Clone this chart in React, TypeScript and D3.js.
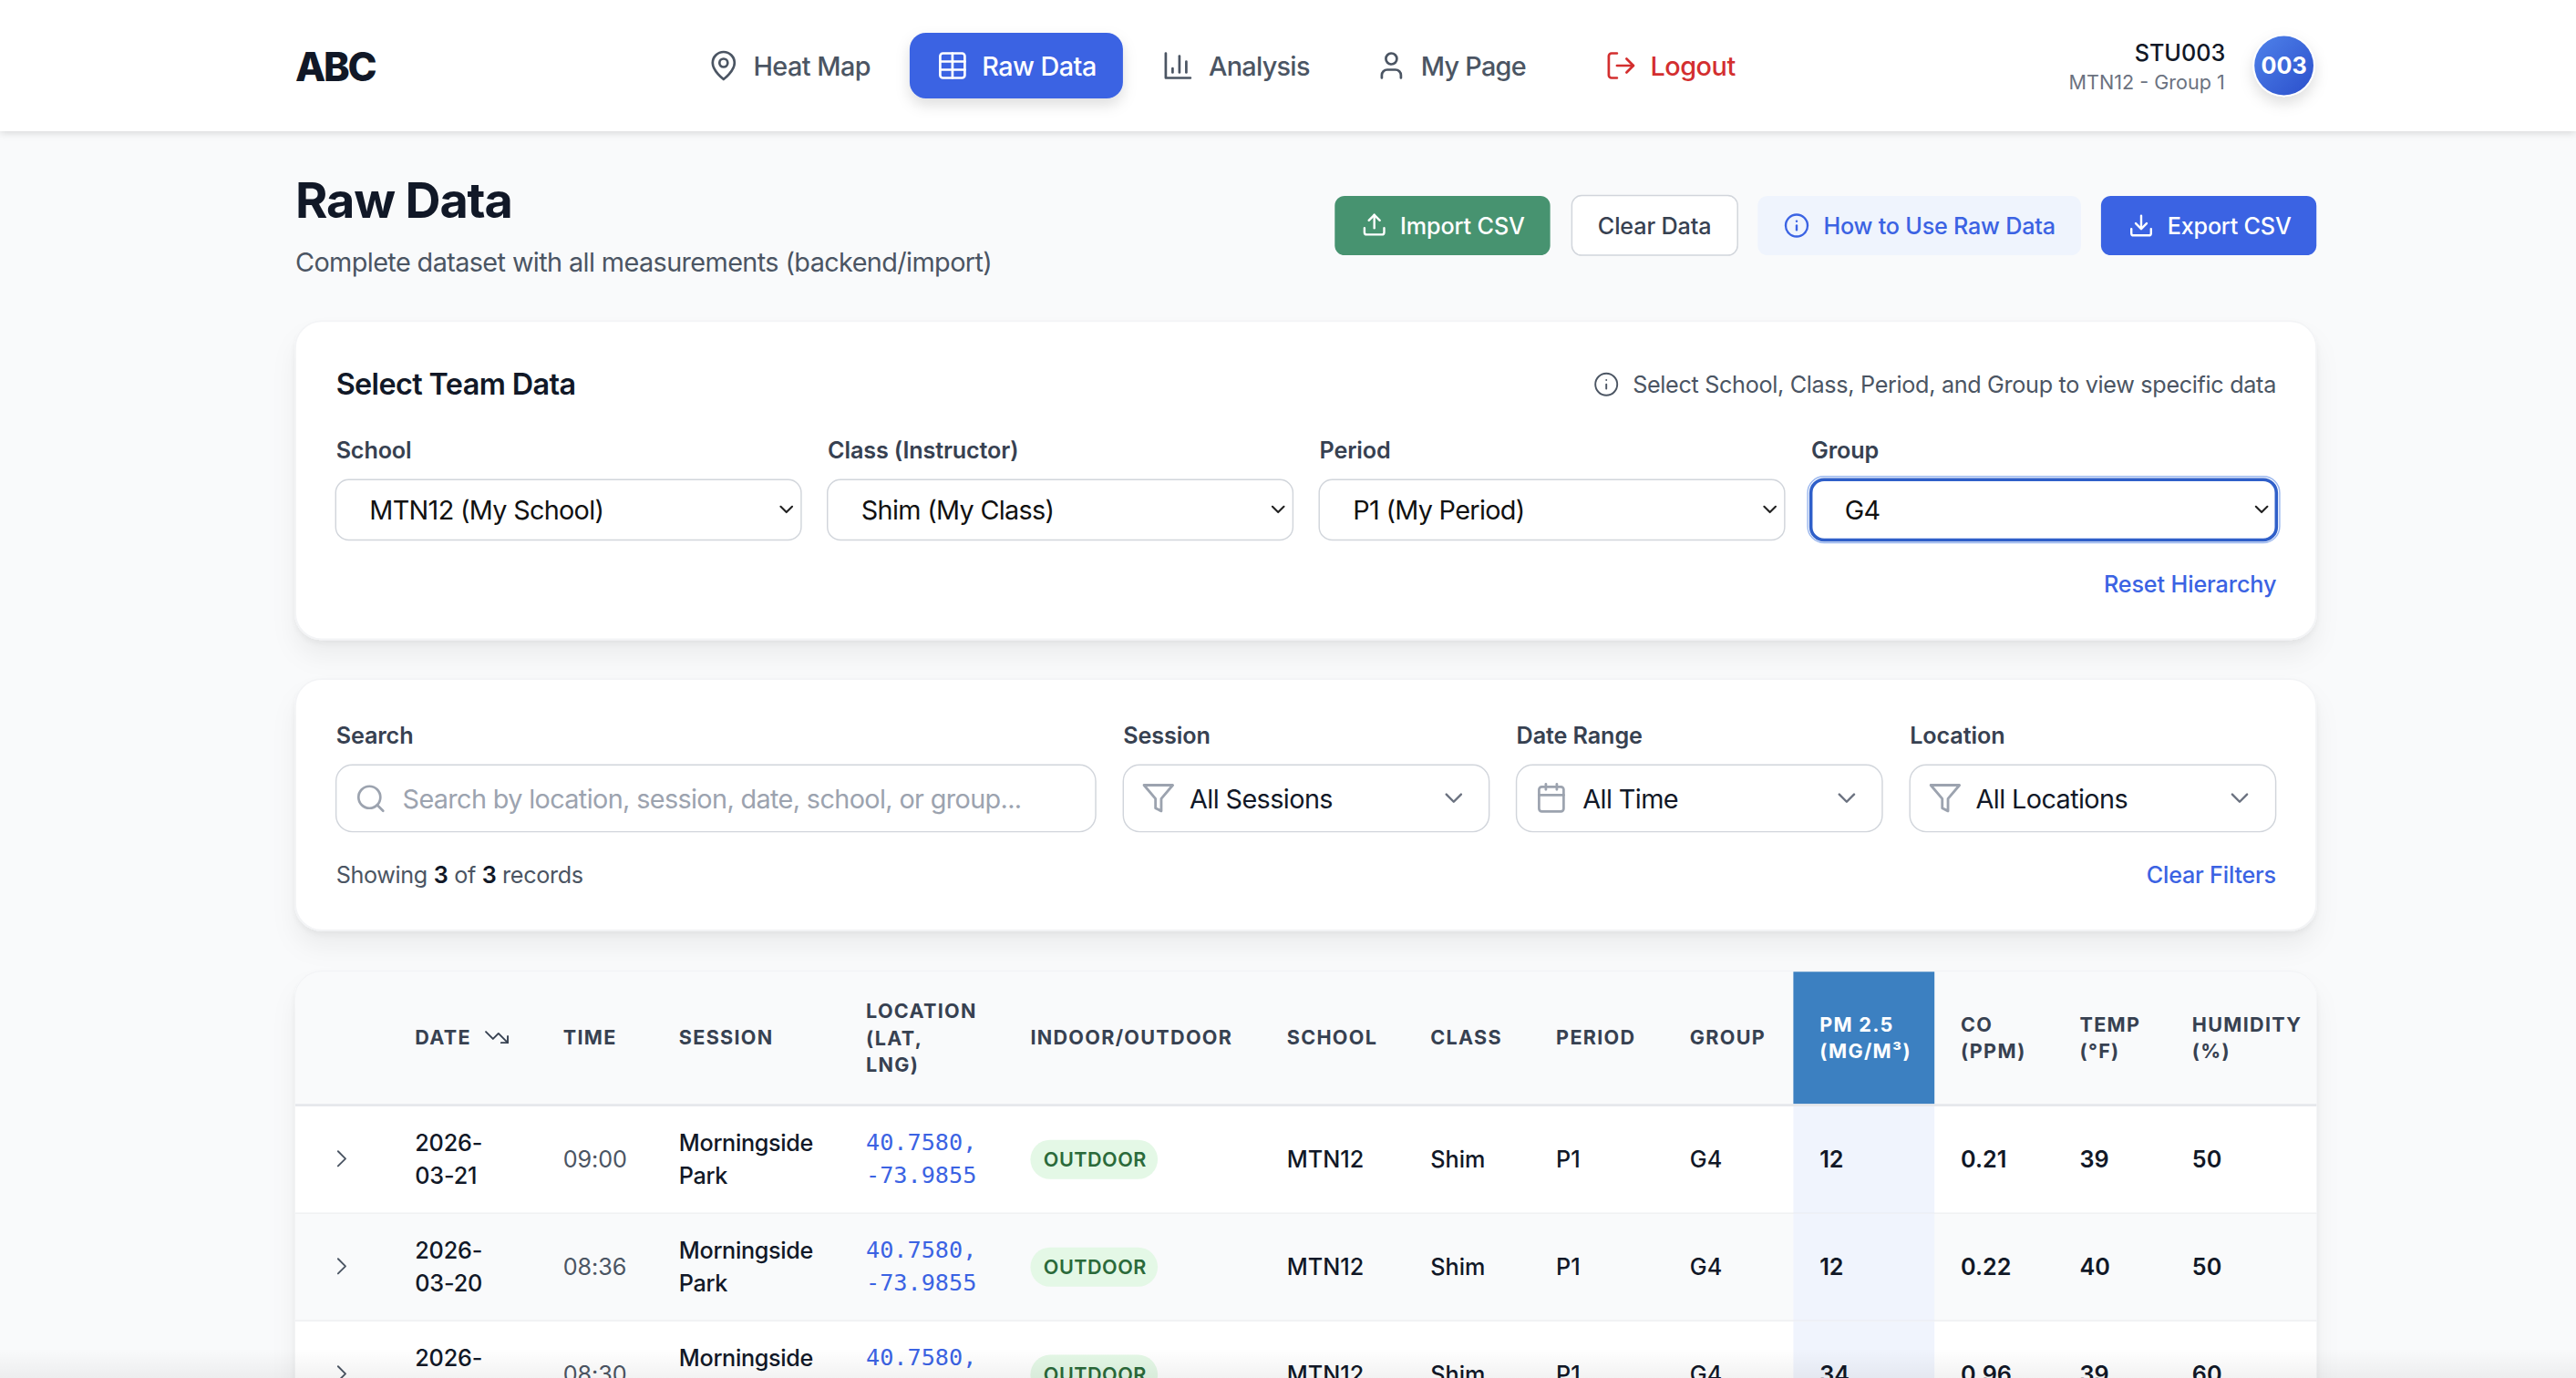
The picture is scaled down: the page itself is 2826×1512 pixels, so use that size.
import React from "react";
import * as d3 from "d3";

const navLabels = ["Heat Map", "Raw Data", "Analysis", "My Page", "Logout"];
const dates = ["2026-03-21", "2026-03-20", "2026-03-19"];
const times = ["09:00", "08:36", "08:30"];
const sessions = ["Morningside Park", "Morningside Park", "Morningside Park"];
const lats = ["40.7580,", "40.7580,", "40.7580,"];
const lngs = ["-73.9855", "-73.9855", "-73.9855"];
const settings = ["OUTDOOR", "OUTDOOR", "OUTDOOR"];
const schools = ["MTN12", "MTN12", "MTN12"];
const classes = ["Shim", "Shim", "Shim"];
const periods = ["P1", "P1", "P1"];
const groups = ["G4", "G4", "G4"];
const pm25 = [12, 12, 34];
const co = ["0.21", "0.22", "0.96"];
const temp = [39, 40, 39];
const humidity = [50, 50, 60];
const columns = ["expand", "date", "time", "session", "location", "setting", "school", "class", "period", "group", "pm", "co", "temp", "humidity"];
const columnLefts = [205.8, 252.9, 343.2, 413.8, 527.8, 628, 784.3, 871.8, 948.4, 1029.9, 1109, 1195, 1267.5, 1336];
const hierarchyLabels = ["School", "Class (Instructor)", "Period", "Group"];
const hierarchyValues = ["MTN12 (My School)", "Shim (My Class)", "P1 (My Period)", "G4"];

const I = {
  pin: ["M20 10c0 6-8 12-8 12s-8-6-8-12a8 8 0 0 1 16 0Z", "M15 10a3 3 0 1 1-6 0a3 3 0 1 1 6 0"],
  table: ["M5 3h14a2 2 0 0 1 2 2v14a2 2 0 0 1-2 2H5a2 2 0 0 1-2-2V5a2 2 0 0 1 2-2Z", "M3 9h18", "M3 15h18", "M12 3v18"],
  chart: ["M3 3v18h18", "M18 17V9", "M13 17V5", "M8 17v-3"],
  user: ["M19 21v-2a4 4 0 0 0-4-4H9a4 4 0 0 0-4 4v2", "M16 7a4 4 0 1 1-8 0a4 4 0 1 1 8 0"],
  logout: ["M9 21H5a2 2 0 0 1-2-2V5a2 2 0 0 1 2-2h4", "M16 17l5-5-5-5", "M21 12H9"],
  upload: ["M21 15v4a2 2 0 0 1-2 2H5a2 2 0 0 1-2-2v-4", "M17 8l-5-5-5 5", "M12 3v12"],
  download: ["M21 15v4a2 2 0 0 1-2 2H5a2 2 0 0 1-2-2v-4", "M7 10l5 5 5-5", "M12 15V3"],
  info: ["M22 12a10 10 0 1 1-20 0a10 10 0 1 1 20 0", "M12 16v-4", "M12 8h.01"],
  search: ["M19 11a8 8 0 1 1-16 0a8 8 0 1 1 16 0", "m21 21-4.35-4.35"],
  filter: ["M22 3H2l8 9.46V19l4 2v-8.54L22 3Z"],
  calendar: ["M5 4h14a2 2 0 0 1 2 2v14a2 2 0 0 1-2 2H5a2 2 0 0 1-2-2V6a2 2 0 0 1 2-2Z", "M16 2v4", "M8 2v4", "M3 10h18"],
  down: ["m6 9 6 6 6-6"],
  right: ["m9 18 6-6-6-6"],
  trend: ["M22 17l-8.5-8.5-5 5L2 7", "M16 17h6v-6"],
};

const FONT = "Inter, 'Noto Sans', sans-serif";
const MONO = "'DejaVu Sans Mono', monospace";
const BLUE = "#3b63e3";

function Icon({ d, x, y, s, c, w = 2 }: { d: string[]; x: number; y: number; s: number; c: string; w?: number }) {
  return (
    <g transform={`translate(${x},${y}) scale(${s / 24})`} fill="none" stroke={c} strokeWidth={w} strokeLinecap="round" strokeLinejoin="round">
      {d.map((p, i) => <path key={i} d={p} />)}
    </g>
  );
}

function T({ x, y, s = 14, w = 400, c = "#111827", a = "start", ls = 0, f = FONT, children }: any) {
  return <text x={x} y={y} fontSize={s} fontWeight={w} fill={c} textAnchor={a} letterSpacing={ls} fontFamily={f}>{children}</text>;
}

function Box({ x, y, w, h, r = 8, fill = "#fff", stroke = "#d1d5db", sw = 0.8, filter }: any) {
  return <rect x={x} y={y} width={w} height={h} rx={r} fill={fill} stroke={stroke} strokeWidth={sw} filter={filter} />;
}

export default function App() {
  const rowY = d3.scaleBand<number>().domain([0, 1, 2]).range([674.3, 674.3 + 65.55 * 3]);
  const colX = d3.scaleOrdinal<string, number>().domain(columns).range(columnLefts);
  const hierX = d3.scaleBand<number>().domain([0, 1, 2, 3]).range([204.6, 1403.4]);

  const headers: { k: string; lines: string[]; base: number; col?: string }[] = [
    { k: "date", lines: ["DATE"], base: 636.7 },
    { k: "time", lines: ["TIME"], base: 636.7 },
    { k: "session", lines: ["SESSION"], base: 636.7 },
    { k: "location", lines: ["LOCATION", "(LAT,", "LNG)"], base: 620.7 },
    { k: "setting", lines: ["INDOOR/OUTDOOR"], base: 636.7 },
    { k: "school", lines: ["SCHOOL"], base: 636.7 },
    { k: "class", lines: ["CLASS"], base: 636.7 },
    { k: "period", lines: ["PERIOD"], base: 636.7 },
    { k: "group", lines: ["GROUP"], base: 636.7 },
    { k: "pm", lines: ["PM 2.5", "(MG/M³)"], base: 628.7, col: "#ffffff" },
    { k: "co", lines: ["CO", "(PPM)"], base: 628.7 },
    { k: "temp", lines: ["TEMP", "(°F)"], base: 628.7 },
    { k: "humidity", lines: ["HUMIDITY", "(%)"], base: 628.7 },
  ];

  return (
    <svg width={2826} height={1512} viewBox="0 0 1570 840" style={{ position: "fixed", left: 0, top: 0, display: "block", background: "#f9fafb" }}>
      <defs>
        <filter id="card" x="-5%" y="-20%" width="110%" height="140%">
          <feDropShadow dx="0" dy="10" stdDeviation="7" floodColor="#000" floodOpacity="0.05" />
          <feDropShadow dx="0" dy="2" stdDeviation="2" floodColor="#000" floodOpacity="0.05" />
        </filter>
        <filter id="head" x="-1%" y="-20%" width="102%" height="150%">
          <feDropShadow dx="0" dy="1" stdDeviation="2.5" floodColor="#000" floodOpacity="0.14" />
        </filter>
        <filter id="btn" x="-20%" y="-30%" width="140%" height="180%">
          <feDropShadow dx="0" dy="4" stdDeviation="4" floodColor="#000" floodOpacity="0.13" />
        </filter>
        <linearGradient id="av" x1="0" y1="0" x2="1" y2="1">
          <stop offset="0" stopColor="#4f82ea" />
          <stop offset="1" stopColor="#2b4fcb" />
        </linearGradient>
        <linearGradient id="fade" x1="0" y1="0" x2="0" y2="1">
          <stop offset="0" stopColor="#000" stopOpacity="0" />
          <stop offset="1" stopColor="#000" stopOpacity="0.05" />
        </linearGradient>
        <clipPath id="tbl"><path d="M196 592.4h1200a16 16 0 0 1 16 16v240H180v-240a16 16 0 0 1 16-16Z" /></clipPath>
      </defs>

      <rect x={0} y={0} width={1570} height={80} fill="#fff" filter="url(#head)" />
      <T x={180} y={49.2} s={24} w={800} ls={-1.25}>ABC</T>

      <Icon d={I.pin} x={431} y={30} s={20} c="#4b5563" w={1.8} />
      <T x={459.1} y={46} s={16} w={500} ls={-0.3} c="#4b5563">{navLabels[0]}</T>
      <rect x={554.4} y={20} width={130} height={40} rx={10} fill={BLUE} filter="url(#btn)" />
      <Icon d={I.table} x={570.5} y={30} s={20} c="#fff" w={1.8} />
      <T x={598.5} y={46} s={16} w={500} ls={-0.3} c="#fff">{navLabels[1]}</T>
      <Icon d={I.chart} x={708} y={30} s={20} c="#4b5563" w={1.8} />
      <T x={736.7} y={46} s={16} w={500} ls={-0.4} c="#4b5563">{navLabels[2]}</T>
      <Icon d={I.user} x={838} y={30} s={20} c="#4b5563" w={1.8} />
      <T x={866} y={46} s={16} w={500} ls={-0.4} c="#4b5563">{navLabels[3]}</T>
      <Icon d={I.logout} x={978} y={30} s={20} c="#d32f2f" w={1.8} />
      <T x={1005.8} y={46} s={16} w={500} ls={-0.25} c="#d32f2f">{navLabels[4]}</T>

      <T x={1356.3} y={37.2} s={14} w={500} a="end">STU003</T>
      <T x={1356} y={54.3} s={12} c="#6b7280" a="end">MTN12 - Group 1</T>
      <circle cx={1392} cy={40} r={19} fill="#fff" filter="url(#btn)" />
      <circle cx={1392} cy={40} r={18} fill="url(#av)" />
      <T x={1392} y={45} s={14} w={700} c="#fff" a="middle">003</T>

      <T x={180} y={132.8} s={30} w={700} ls={-0.65}>Raw Data</T>
      <T x={180} y={165.5} s={16} ls={-0.33} c="#4b5563">Complete dataset with all measurements (backend/import)</T>

      <rect x={813.5} y={119.4} width={131.3} height={36.2} rx={6} fill="#479370" />
      <Icon d={I.upload} x={829.6} y={129} s={16} c="#fff" />
      <T x={853.4} y={143} s={14} w={500} ls={-0.08} c="#fff">Import CSV</T>
      <Box x={958} y={119.2} w={101} h={36.4} r={6} />
      <T x={973.8} y={143} s={14} w={500} ls={-0.08} c="#374151">Clear Data</T>
      <rect x={1071.3} y={119.4} width={197} height={36.2} rx={6} fill="#eff4fd" />
      <Icon d={I.info} x={1087} y={129.5} s={16} c={BLUE} />
      <T x={1111.4} y={143} s={14} w={500} ls={-0.13} c={BLUE}>How to Use Raw Data</T>
      <rect x={1280.5} y={119.4} width={131.3} height={36.2} rx={6} fill={BLUE} />
      <Icon d={I.download} x={1297} y={129.5} s={16} c="#fff" />
      <T x={1321} y={143} s={14} w={500} ls={-0.13} c="#fff">Export CSV</T>

      {/* team selector card */}
      <rect x={180} y={195.8} width={1231.7} height={193.8} rx={16} fill="#fff" stroke="#f3f4f6" filter="url(#card)" />
      <T x={204.8} y={240.6} s={18} w={600} ls={-0.34}>Select Team Data</T>
      <Icon d={I.info} x={971} y={226.3} s={16} c="#4b5563" w={1.6} />
      <T x={1387.2} y={239.6} s={14} ls={-0.18} c="#4b5563" a="end">Select School, Class, Period, and Group to view specific data</T>
      {hierarchyLabels.map((l, i) => {
        const x = hierX(i)!;
        const w = hierX.bandwidth() - 16;
        const focused = i === 3;
        return (
          <g key={l}>
            <T x={x + 0.2} y={279.6} s={14} w={600} ls={-0.08} c="#374151">{l}</T>
            {focused && <rect x={x - 2} y={290.4} width={w + 4} height={40.4} rx={10} fill="none" stroke="#9db9ef" strokeWidth={0.8} />}
            <Box x={x} y={292.4} w={w} h={36.8} stroke={focused ? "#2f5fc9" : "#d1d5db"} sw={focused ? 2 : 0.8} />
            <T x={x + 20.6} y={316.8} s={16} ls={-0.38} c="#111">{hierarchyValues[i]}</T>
            <Icon d={I.down} x={x + w - 16} y={303.5} s={14} c="#222" w={2} />
          </g>
        );
      })}
      <T x={1387.4} y={361} s={14} w={500} ls={-0.07} c={BLUE} a="end">Reset Hierarchy</T>

      {/* filters card */}
      <rect x={180} y={414} width={1231.7} height={153} rx={16} fill="#fff" stroke="#f3f4f6" filter="url(#card)" />
      <T x={204.8} y={453.6} s={14} w={600} ls={-0.06} c="#374151">Search</T>
      <T x={684.6} y={453.6} s={14} w={600} ls={-0.06} c="#374151">Session</T>
      <T x={924.2} y={453.6} s={14} w={600} ls={-0.06} c="#374151">Date Range</T>
      <T x={1164} y={453.6} s={14} w={600} ls={-0.06} c="#374151">Location</T>
      <Box x={204.8} y={466.2} w={463} h={40.8} r={10} />
      <Icon d={I.search} x={216} y={476.8} s={20} c="#9ca3af" w={1.8} />
      <T x={245.3} y={493} s={16} ls={-0.35} c="#9ca3af">Search by location, session, date, school, or group...</T>
      <Box x={684.6} y={466.2} w={223} h={40.8} r={10} />
      <Icon d={I.filter} x={695.5} y={476} s={21} c="#9ca3af" w={1.8} />
      <T x={725} y={493} s={16} ls={-0.33} c="#111827">All Sessions</T>
      <Icon d={I.down} x={877} y={477.5} s={18} c="#6b7280" w={1.8} />
      <Box x={924.2} y={466.2} w={223} h={40.8} r={10} />
      <Icon d={I.calendar} x={935.5} y={476.3} s={20} c="#9ca3af" w={1.8} />
      <T x={964.6} y={493} s={16} ls={-0.33} c="#111827">All Time</T>
      <Icon d={I.down} x={1116.5} y={477.5} s={18} c="#6b7280" w={1.8} />
      <Box x={1164} y={466.2} w={223} h={40.8} r={10} />
      <Icon d={I.filter} x={1175} y={476} s={21} c="#9ca3af" w={1.8} />
      <T x={1204.2} y={493} s={16} ls={-0.33} c="#111827">All Locations</T>
      <Icon d={I.down} x={1356} y={477.5} s={18} c="#6b7280" w={1.8} />
      <text x={204.8} y={538.6} fontSize={14} fontFamily={FONT} fill="#4b5563" letterSpacing={-0.19}>
        Showing <tspan fontWeight={600} fill="#111827">3</tspan> of <tspan fontWeight={600} fill="#111827">3</tspan> records
      </text>
      <T x={1387.2} y={538.6} s={14} w={500} ls={-0.12} c={BLUE} a="end">Clear Filters</T>

      {/* table card */}
      <path d="M196 592.2h1199.7a16 16 0 0 1 16 16v240H180v-240a16 16 0 0 1 16-16Z" fill="#fff" stroke="#f3f4f6" filter="url(#card)" />
      <g clipPath="url(#tbl)">
        <rect x={180} y={592} width={1232} height={81} fill="#f9fafb" />
        <rect x={1093} y={592} width={86} height={81} fill="#3c80c1" />
        {dates.map((_, i) => (
          <g key={i}>
            <rect x={180} y={rowY(i)!} width={1232} height={rowY.bandwidth()} fill={i % 2 ? "#f9fafb" : "#fff"} />
            <rect x={1093} y={rowY(i)!} width={86} height={rowY.bandwidth()} fill="#f0f4fd" />
            <rect x={180} y={rowY(i)! + rowY.bandwidth() - 0.6} width={1232} height={0.6} fill="#e5e7eb" />
          </g>
        ))}
        <rect x={180} y={672.9} width={1232} height={1.5} fill="#e5e7eb" />
      </g>
      {headers.map((h) => (
        <g key={h.k}>
          {h.lines.map((l, j) => (
            <T key={l} x={colX(h.k)} y={h.base + j * 16.3} s={12} w={700} ls={0.72} c={h.col ?? "#374151"}>{l}</T>
          ))}
        </g>
      ))}
      <Icon d={I.trend} x={294.8} y={624.3} s={16} c="#374151" w={1.6} />
      {dates.map((dt, i) => {
        const top = rowY(i)!;
        const mid = top + 37.2;
        const [dYear, dRest] = [dt.slice(0, 5), dt.slice(5)];
        const [sA, sB] = sessions[i].split(" ");
        return (
          <g key={dt}>
            <Icon d={I.right} x={colX("expand")! - 6.5} y={mid - 14.2} s={18} c="#4b5563" w={1.4} />
            <T x={colX("date")} y={top + 27.3} s={14} w={500} ls={-0.1}>{dYear}</T>
            <T x={colX("date")} y={top + 47.5} s={14} w={500} ls={-0.1}>{dRest}</T>
            <T x={colX("time")} y={mid} s={14} ls={-0.05} c="#4b5563">{times[i]}</T>
            <T x={colX("session")} y={top + 27.3} s={14} w={500} ls={-0.18}>{sA}</T>
            <T x={colX("session")} y={top + 47.5} s={14} w={500} ls={-0.18}>{sB}</T>
            <T x={colX("location")} y={top + 26.6} s={14} c={BLUE} f={MONO}>{lats[i]}</T>
            <T x={colX("location")} y={top + 46.9} s={14} c={BLUE} f={MONO}>{lngs[i]}</T>
            <rect x={colX("setting")} y={top + 20.5} width={77.6} height={24} rx={12} fill="#e4f8e6" />
            <T x={colX("setting")! + 8} y={mid - 0.3} s={12} w={600} ls={0.28} c="#2b6a3a">{settings[i]}</T>
            <T x={colX("school")} y={mid} s={14} w={500}>{schools[i]}</T>
            <T x={colX("class")} y={mid} s={14} w={500}>{classes[i]}</T>
            <T x={colX("period")} y={mid} s={14} w={500}>{periods[i]}</T>
            <T x={colX("group")} y={mid} s={14} w={500}>{groups[i]}</T>
            <T x={colX("pm")} y={mid} s={14} w={600}>{pm25[i]}</T>
            <T x={colX("co")} y={mid} s={14} w={600}>{co[i]}</T>
            <T x={colX("temp")} y={mid} s={14} w={600}>{temp[i]}</T>
            <T x={colX("humidity")} y={mid} s={14} w={600}>{humidity[i]}</T>
          </g>
        );
      })}
      <rect x={0} y={822} width={1570} height={18} fill="url(#fade)" />
    </svg>
  );
}
